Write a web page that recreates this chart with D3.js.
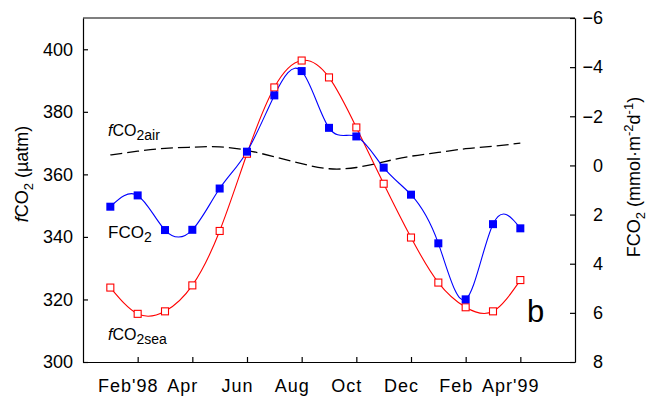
<!DOCTYPE html>
<html>
<head>
<meta charset="utf-8">
<title>fCO2 and FCO2, Feb'98 - Apr'99</title>
<script src="https://cdn.jsdelivr.net/npm/d3@7"></script>
<style>
  body { margin: 0; background: #fff; }
  svg { font-family: "Liberation Sans", Arial, sans-serif; }
  .axis path, .axis line { stroke: #000; stroke-width: 1.2px; }
  .axis text { font-size: 18px; fill: #000; }
</style>
</head>
<body>
<div id="chart"></div>
<script>
// months counted from Dec 1997 (0) ... Jun 1999 (18)
var months = [1, 2, 3, 4, 5, 6, 7, 8, 9, 10, 11, 12, 13, 14, 15, 16];
var fco2Sea = [323.8, 315.4, 316.2, 324.5, 341.9, 366.6, 387.8, 396.4, 391.0, 375.0, 357.0, 339.8, 325.4, 317.5, 316.2, 326.2];
var fco2Air = [366.2, 367.4, 368.3, 368.7, 368.8, 367.7, 365.6, 363.4, 361.8, 362.2, 364.0, 365.8, 367.0, 368.2, 369.0, 370.0];
var fluxCO2 = [1.68, 1.22, 2.63, 2.62, 0.94, -0.56, -2.85, -3.84, -1.53, -1.18, 0.09, 1.19, 3.17, 5.45, 2.39, 2.56];
var tickMonths = [2, 4, 6, 8, 10, 12, 14, 16];
var tickNames = ["Feb'98", "Apr", "Jun", "Aug", "Oct", "Dec", "Feb", "Apr'99"];
var leftTicks = [300, 320, 340, 360, 380, 400];
var rightTicks = [-6, -4, -2, 0, 2, 4, 6, 8];

var W = 647, H = 396;
var mLeft = 83, mRight = 575, mTop = 18, mBottom = 362;

var svg = d3.select("#chart").append("svg").attr("width", W).attr("height", H);

var x = d3.scaleLinear().domain([0, 18]).range([mLeft, mRight]);
var yL = d3.scaleLinear().domain([300, 410]).range([mBottom, mTop]);
var yR = d3.scaleLinear().domain([-6, 8]).range([mTop, mBottom]);

// frame top line
svg.append("line").attr("x1", mLeft).attr("x2", mRight).attr("y1", mTop).attr("y2", mTop)
   .attr("stroke", "#000").attr("stroke-width", 1.2);

var gB = svg.append("g").attr("class", "axis").attr("transform", "translate(0," + mBottom + ")")
   .call(d3.axisBottom(x).tickValues(tickMonths).tickFormat(function(d, i) { return tickNames[i]; })
         .tickSizeInner(-5).tickSizeOuter(0).tickPadding(17));
// month labels sit a little left of their ticks in the original
gB.selectAll("text").attr("dx", -10).style("letter-spacing", "1px");

svg.append("g").attr("class", "axis").attr("transform", "translate(" + mLeft + ",0)")
   .call(d3.axisLeft(yL).tickValues(leftTicks).tickSizeInner(-5).tickSizeOuter(0).tickPadding(10));

var gR = svg.append("g").attr("class", "axis").attr("transform", "translate(" + mRight + ",0)")
   .call(d3.axisRight(yR).tickValues(rightTicks).tickSizeInner(-5).tickSizeOuter(0).tickPadding(10));
gR.selectAll("text").attr("text-anchor", "end").attr("x", 28);

// lines
var air = months.map(function(m, i) { return [x(m), yL(fco2Air[i])]; });
var sea = months.map(function(m, i) { return [x(m), yL(fco2Sea[i])]; });
var flux = months.map(function(m, i) { return [x(m), yR(fluxCO2[i])]; });

var line = d3.line().curve(d3.curveNatural);

svg.append("path").attr("d", line(air)).attr("fill", "none")
   .attr("stroke", "#000").attr("stroke-width", 1.3).attr("stroke-dasharray", "12,5");
svg.append("path").attr("d", line(sea)).attr("fill", "none")
   .attr("stroke", "#ff0000").attr("stroke-width", 1.1);
svg.append("path").attr("d", line(flux)).attr("fill", "none")
   .attr("stroke", "#0000ff").attr("stroke-width", 1.1);

var s = 7;
svg.selectAll(".sea").data(sea).enter().append("rect")
   .attr("x", function(d) { return d[0] - s / 2; }).attr("y", function(d) { return d[1] - s / 2; })
   .attr("width", s).attr("height", s)
   .attr("fill", "#fff").attr("stroke", "#ff0000").attr("stroke-width", 1.1);
svg.selectAll(".flux").data(flux).enter().append("rect")
   .attr("x", function(d) { return d[0] - 4; }).attr("y", function(d) { return d[1] - 4; })
   .attr("width", 8).attr("height", 8).attr("fill", "#0000ff");

// labels inside plot
function label(tx, ty, parts, size) {
  var t = svg.append("text").attr("x", tx).attr("y", ty).attr("font-size", size);
  parts.forEach(function(p) {
    var ts = t.append("tspan").text(p.t);
    if (p.it) ts.attr("font-style", "italic");
    if (p.dy) ts.attr("dy", p.dy);
    if (p.sz) ts.attr("font-size", p.sz);
  });
  return t;
}
label(108, 136, [{t: "f", it: true}, {t: "CO"}, {t: "2air", dy: 4, sz: 14}], 16);
label(108, 238, [{t: "FCO"}, {t: "2", dy: 4, sz: 14}], 17);
label(108, 340, [{t: "f", it: true}, {t: "CO"}, {t: "2sea", dy: 4, sz: 14}], 16);
svg.append("text").attr("x", 527).attr("y", 322).attr("font-size", 31).text("b");

// axis titles
var lt = svg.append("text").attr("transform", "translate(28,174) rotate(-90)")
   .attr("text-anchor", "middle").attr("font-size", 18);
lt.append("tspan").attr("font-style", "italic").text("f");
lt.append("tspan").text("CO");
lt.append("tspan").attr("dy", 5).attr("font-size", 13).text("2");
lt.append("tspan").attr("dy", -5).text(" (\u00b5atm)");

var rt = svg.append("text").attr("transform", "translate(640,177) rotate(-90)")
   .attr("text-anchor", "middle").attr("font-size", 18);
rt.append("tspan").text("FCO");
rt.append("tspan").attr("dy", 5).attr("font-size", 13).text("2");
rt.append("tspan").attr("dy", -5).text(" (mmol\u00b7m");
rt.append("tspan").attr("dy", -7).attr("font-size", 13).text("-2");
rt.append("tspan").attr("dy", 7).text("d");
rt.append("tspan").attr("dy", -7).attr("font-size", 13).text("-1");
rt.append("tspan").attr("dy", 7).text(")");
</script>
</body>
</html>
